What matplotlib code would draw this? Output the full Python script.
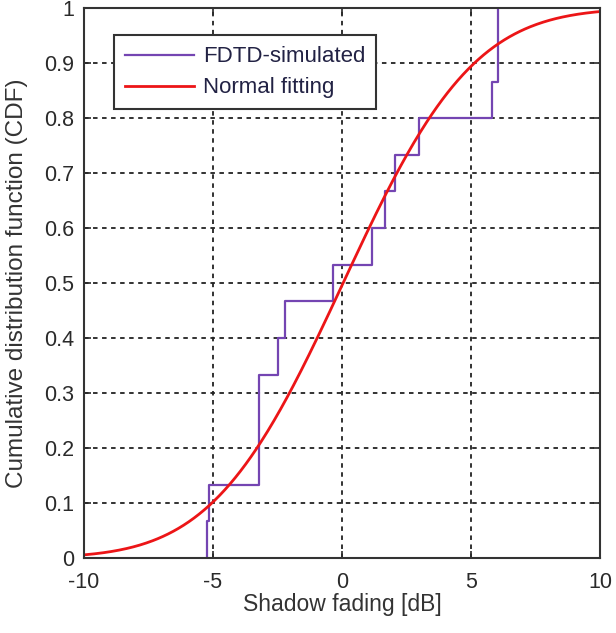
import numpy as np
import matplotlib
matplotlib.use("Agg")
import matplotlib.pyplot as plt
from math import erf, sqrt

plt.rcParams["font.family"] = ["Liberation Sans", "DejaVu Sans"]
plt.rcParams["axes.unicode_minus"] = False

# Shadow fading samples from the FDTD runs (dB)
shadow_fading = [-5.25, -5.15, -3.23, -3.23, -3.23, -2.49, -2.22, -0.35,
                 1.17, 1.67, 2.06, 3.0, 5.8, 6.03, 6.03]
x_ticks = [-10, -5, 0, 5, 10]
y_ticks = [0, 0.1, 0.2, 0.3, 0.4, 0.5, 0.6, 0.7, 0.8, 0.9, 1]
y_tick_labels = ["0", "0.1", "0.2", "0.3", "0.4", "0.5", "0.6", "0.7", "0.8", "0.9", "1"]

# Empirical CDF
samples = np.sort(np.array(shadow_fading))
n = len(samples)
ecdf_x = np.concatenate(([samples[0]], samples))
ecdf_y = np.concatenate(([0.0], np.arange(1, n + 1) / n))

# Normal fit
mu = samples.mean()
sigma = samples.std(ddof=1)
xs = np.linspace(-10, 10, 400)
fit = np.array([0.5 * (1 + erf((v - mu) / (sigma * sqrt(2)))) for v in xs])

fig = plt.figure(figsize=(6.16, 6.33), dpi=100)
ax = fig.add_axes([0.1364, 0.1185, 0.8377, 0.8685])

ax.step(ecdf_x, ecdf_y, where="post", color="#7445b2", lw=1.6, label="FDTD-simulated")
ax.plot(xs, fit, color="#ec1517", lw=2.0, label="Normal fitting")

ax.set_xlim(-10, 10)
ax.set_ylim(0, 1)
ax.set_xticks(x_ticks)
ax.set_yticks(y_ticks)
ax.set_yticklabels(y_tick_labels)
ax.tick_params(direction="in", length=5, width=1.2, labelsize=15.5,
               top=True, right=True, colors="#2a2a2a")
ax.tick_params(axis="y", pad=7)
ax.tick_params(axis="x", pad=10)
ax.grid(True, color="#222222", linestyle=(0, (2.5, 2.5)), lw=1.3)
for s in ax.spines.values():
    s.set_linewidth(1.5)
    s.set_color("#333333")

ax.set_xlabel("Shadow fading [dB]", size=16.5, color="#333333", labelpad=0)
ax.set_ylabel("Cumulative distribution function (CDF)", size=17.5, color="#333333")
ax.yaxis.set_label_coords(-0.109, 0.5)

leg = ax.legend(loc="upper left", bbox_to_anchor=(0.058, 0.951), borderaxespad=0,
                fontsize=16, fancybox=False, framealpha=1, edgecolor="#333333",
                handlelength=3.1, handletextpad=0.4, borderpad=0.5,
                labelspacing=0.45)
leg.get_frame().set_linewidth(1.5)
for t in leg.get_texts():
    t.set_color("#222244")

fig.savefig("out.png", dpi=100)
